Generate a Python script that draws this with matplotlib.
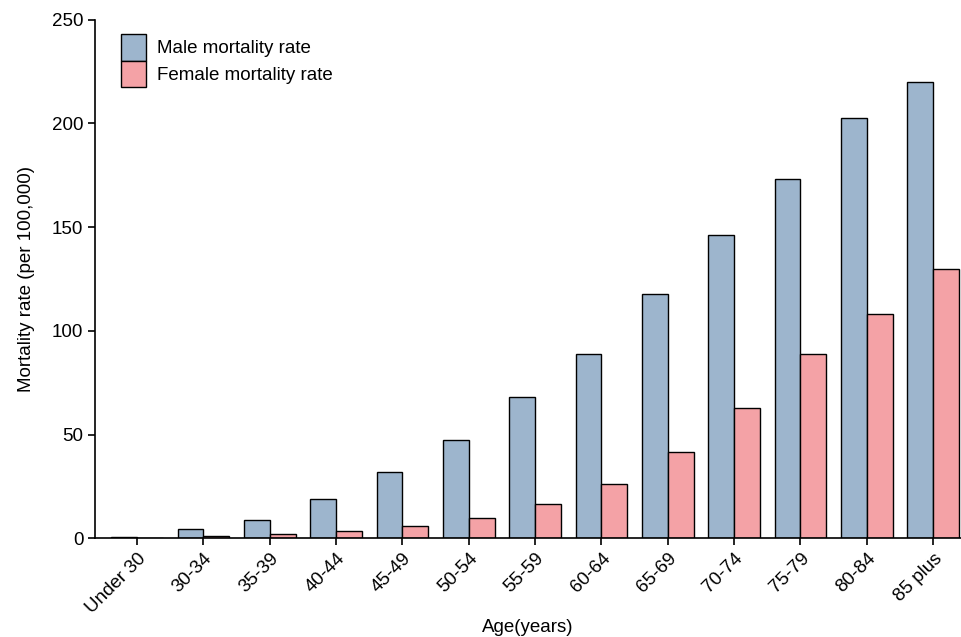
import matplotlib.pyplot as plt
import numpy as np

plt.rcParams['font.family'] = ['Liberation Sans', 'DejaVu Sans']

ages = ['Under 30', '30-34', '35-39', '40-44', '45-49', '50-54', '55-59',
        '60-64', '65-69', '70-74', '75-79', '80-84', '85 plus']
male = [0.8, 4.5, 9, 19, 32, 47.5, 68, 89, 118, 146, 173, 202.5, 220]
female = [0.3, 1.0, 2.0, 3.5, 6, 10, 16.5, 26, 41.5, 63, 89, 108, 130]

x = np.arange(len(ages))
w = 0.39

fig = plt.figure(figsize=(9.62, 6.37), dpi=100)
ax = fig.add_axes([0.099, 0.155, 0.9, 0.814])

ax.bar(x - w / 2, male, w, color='#9db5cd', edgecolor='black', linewidth=1,
       label='Male mortality rate')
ax.bar(x + w / 2, female, w, color='#f4a2a6', edgecolor='black', linewidth=1,
       label='Female mortality rate')

ax.set_xlim(-0.63, 12.42)
ax.set_ylim(0, 250)
ax.set_yticks(range(0, 251, 50))
ax.set_xticks(x)
ax.set_xticklabels(ages, rotation=45, ha='right', rotation_mode='anchor')
ax.tick_params(labelsize=13.5, width=1.2, length=5, colors='black')
ax.spines['top'].set_visible(False)
ax.spines['right'].set_visible(False)
ax.spines['left'].set_linewidth(1.2)
ax.spines['bottom'].set_linewidth(1.2)

ax.set_xlabel('Age(years)', fontsize=13.5, labelpad=2)
ax.set_ylabel('Mortality rate (per 100,000)', fontsize=13.5, labelpad=12)

ax.legend(loc='upper left', bbox_to_anchor=(0.01, 1.005), frameon=False,
          fontsize=13.5, handlelength=1.32, handleheight=1.8,
          handletextpad=0.6, labelspacing=0.0)

plt.savefig('out.png', dpi=100)
